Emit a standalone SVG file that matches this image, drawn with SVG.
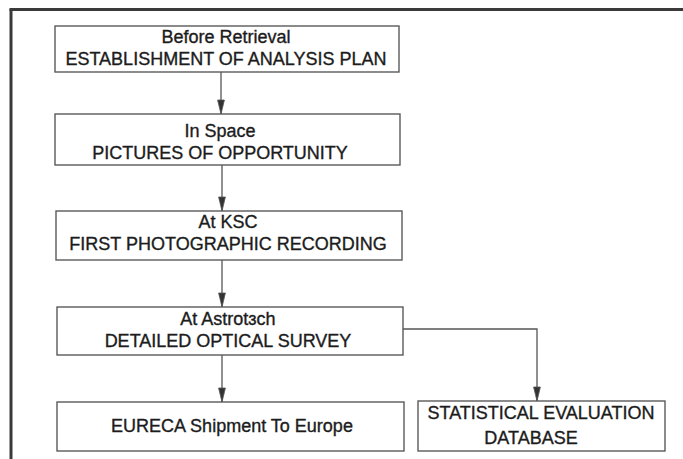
<svg xmlns="http://www.w3.org/2000/svg" width="683" height="459" viewBox="0 0 683 459">
<style>
.box{fill:#fff;stroke:#5a5a5a;stroke-width:1.4}
.t{font-family:"Liberation Sans",Arial,sans-serif;font-size:18px;fill:#1c1c1c;stroke:#1c1c1c;stroke-width:0.35;text-anchor:middle}
.c{fill:none;stroke:#555;stroke-width:1.3}
.frame{stroke:#3a3a3a;stroke-width:3;fill:none}
</style>
<defs>
<marker id="ah" markerUnits="userSpaceOnUse" markerWidth="16" markerHeight="8" refX="15" refY="4" orient="auto" viewBox="0 0 16 8">
<path d="M1,0.6 L15,4 L1,7.4 Z" fill="#333" stroke="#555" stroke-width="0.8"/>
</marker>
</defs>
<rect width="683" height="459" fill="#fff"/>
<g id="frame">
<line class="frame" x1="11" y1="9" x2="11" y2="459"/>
<line class="frame" x1="9.5" y1="9.5" x2="683" y2="9.5"/>
</g>
<g id="connectors">
<line class="c" x1="221" y1="72" x2="221" y2="114" marker-end="url(#ah)"/>
<line class="c" x1="222" y1="165" x2="222" y2="211" marker-end="url(#ah)"/>
<line class="c" x1="222" y1="260" x2="222" y2="307" marker-end="url(#ah)"/>
<line class="c" x1="222" y1="355" x2="222" y2="402" marker-end="url(#ah)"/>
<polyline class="c" points="403,329 537,329 537,401" marker-end="url(#ah)"/>
</g>
<g id="n1">
<rect class="box" x="55" y="26" width="344" height="46"/>
<text class="t" x="226" y="43">Before Retrieval</text>
<text class="t" x="226" y="65">ESTABLISHMENT OF ANALYSIS PLAN</text>
</g>
<g id="n2">
<rect class="box" x="55" y="114" width="345" height="51"/>
<text class="t" x="220" y="137">In Space</text>
<text class="t" x="220" y="159">PICTURES OF OPPORTUNITY</text>
</g>
<g id="n3">
<rect class="box" x="56" y="211" width="346" height="49"/>
<text class="t" x="228" y="228">At KSC</text>
<text class="t" x="228" y="250">FIRST PHOTOGRAPHIC RECORDING</text>
</g>
<g id="n4">
<rect class="box" x="57" y="307" width="346" height="48"/>
<text class="t" x="228" y="325">At Astrotɜch</text>
<text class="t" x="228" y="347">DETAILED OPTICAL SURVEY</text>
</g>
<g id="n5">
<rect class="box" x="57" y="402" width="347" height="49"/>
<text class="t" x="232" y="432">EURECA Shipment To Europe</text>
</g>
<g id="n6">
<rect class="box" x="418" y="401" width="247" height="50"/>
<text class="t" x="541" y="419">STATISTICAL EVALUATION</text>
<text class="t" x="531" y="444">DATABASE</text>
</g>
</svg>
